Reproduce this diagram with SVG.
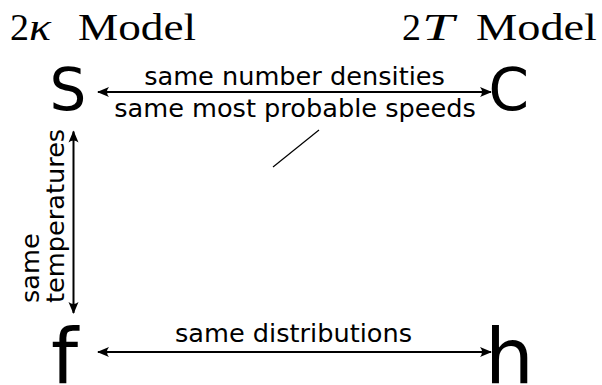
<svg xmlns="http://www.w3.org/2000/svg" width="602" height="385" viewBox="0 0 602 385">
<style>
.title{font-family:"Liberation Serif",serif;font-size:38px;fill:#000}
.it{font-style:italic}
.big{font-family:"DejaVu Sans",sans-serif;fill:#000}
.lbl{font-family:"DejaVu Sans",sans-serif;font-size:25.6px;fill:#000}
.conn{stroke:#000;stroke-width:2;fill:none}
</style>
<defs>
<marker id="ah" viewBox="-12 -6 14 12" refX="0" refY="0" markerWidth="14" markerHeight="12" markerUnits="userSpaceOnUse" orient="auto-start-reverse">
<path d="M1,0 L-11,-5 Q-7,0 -11,5 Z" fill="#000"/>
</marker>
</defs>
<g id="title-left">
<text class="title" x="10" y="40">2</text>
<text class="title it" x="29" y="40" textLength="22" lengthAdjust="spacingAndGlyphs">κ</text>
<text class="title" x="78" y="40" textLength="118" lengthAdjust="spacingAndGlyphs">Model</text>
</g>
<g id="title-right">
<text class="title" x="402" y="40">2</text>
<text class="title it" x="422" y="40" textLength="32" lengthAdjust="spacingAndGlyphs">T</text>
<text class="title" x="476" y="40" textLength="121" lengthAdjust="spacingAndGlyphs">Model</text>
</g>
<g id="node-s"><text class="big" x="49.5" y="109.5" font-size="58">S</text></g>
<g id="node-c"><text class="big" x="488.5" y="109.5" font-size="58">C</text></g>
<g id="node-f"><text class="big" x="51" y="383" font-size="77">f</text></g>
<g id="node-h"><text class="big" x="485" y="383" font-size="77">h</text></g>
<g id="connectors">
<line class="conn" x1="98" y1="92" x2="491" y2="92" marker-start="url(#ah)" marker-end="url(#ah)"/>
<line class="conn" x1="98" y1="352" x2="491" y2="352" marker-start="url(#ah)" marker-end="url(#ah)"/>
<line class="conn" x1="73.5" y1="131.5" x2="73.5" y2="313" marker-start="url(#ah)" marker-end="url(#ah)"/>
<line x1="273" y1="167" x2="319" y2="130" stroke="#000" stroke-width="1.2"/>
</g>
<g id="labels">
<text class="lbl" x="294.5" y="84.5" text-anchor="middle">same number densities</text>
<text class="lbl" x="295" y="117" text-anchor="middle">same most probable speeds</text>
<text class="lbl" x="293.5" y="342" text-anchor="middle">same distributions</text>
<text class="lbl" transform="translate(38.5,303) rotate(-90)">same</text>
<text class="lbl" transform="translate(64,303) rotate(-90)">temperatures</text>
</g>
</svg>
